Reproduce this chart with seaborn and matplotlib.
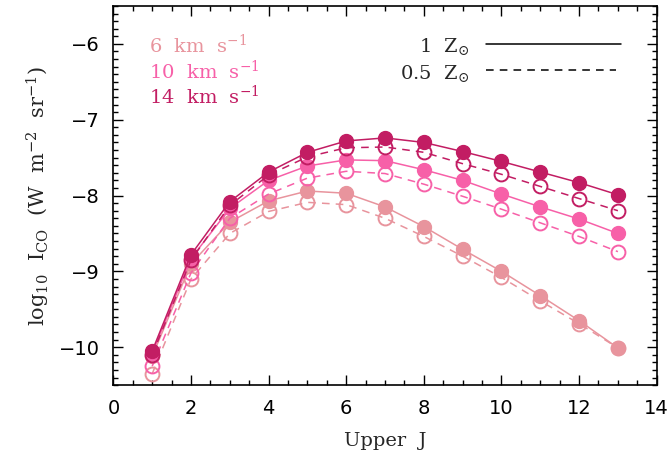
import numpy as np
import pandas as pd
import matplotlib
matplotlib.use("Agg")
import matplotlib.pyplot as plt
import seaborn as sns
from matplotlib.ticker import MultipleLocator

J = [1, 2, 3, 4, 5, 6, 7, 8, 9, 10, 11, 12, 13]

v6_solid = [-10.12, -8.90, -8.35, -8.07, -7.94, -7.97, -8.15, -8.41, -8.71, -9.00, -9.32, -9.65, -10.01]
v6_dash = [-10.35, -9.10, -8.50, -8.21, -8.09, -8.12, -8.30, -8.54, -8.80, -9.08, -9.39, -9.69, -10.01]
v10_solid = [-10.08, -8.83, -8.17, -7.80, -7.61, -7.53, -7.54, -7.66, -7.80, -7.98, -8.15, -8.31, -8.50]
v10_dash = [-10.25, -9.02, -8.30, -7.98, -7.77, -7.68, -7.71, -7.85, -8.01, -8.18, -8.36, -8.54, -8.74]
v14_solid = [-10.05, -8.78, -8.08, -7.69, -7.43, -7.28, -7.24, -7.30, -7.42, -7.55, -7.69, -7.83, -7.99]
v14_dash = [-10.10, -8.85, -8.13, -7.73, -7.49, -7.37, -7.36, -7.43, -7.58, -7.72, -7.88, -8.04, -8.20]

labels = ["6  km  s$^{-1}$", "10  km  s$^{-1}$", "14  km  s$^{-1}$"]
colors = ["#E8949D", "#F760A8", "#C21D63"]

sns.set_theme(style="ticks")
plt.rcParams['font.family'] = ['DejaVu Serif']
plt.rcParams['mathtext.fontset'] = 'dejavuserif'

fig = plt.figure(figsize=(6.71, 4.59), dpi=100)
ax = fig.add_axes([0.169, 0.161, 0.8097, 0.826])

series = [(v6_solid, v6_dash), (v10_solid, v10_dash), (v14_solid, v14_dash)]
for (s, d), c in zip(series, colors):
    sns.lineplot(x=J, y=d, ax=ax, color=c, linewidth=1.1, linestyle=(0, (5, 4)),
                 marker='o', markersize=10, markerfacecolor='none',
                 markeredgecolor=c, markeredgewidth=1.4)
    sns.lineplot(x=J, y=s, ax=ax, color=c, linewidth=1.1, linestyle='-',
                 marker='o', markersize=10, markerfacecolor=c,
                 markeredgecolor=c, markeredgewidth=1.0)

ax.set_xlim(0, 14)
ax.set_ylim(-10.5, -5.5)
ax.xaxis.set_major_locator(MultipleLocator(2))
ax.xaxis.set_minor_locator(MultipleLocator(0.5))
ax.yaxis.set_major_locator(MultipleLocator(1))
ax.yaxis.set_minor_locator(MultipleLocator(0.1))
ax.tick_params(which='both', direction='in', top=True, right=True, colors='black', width=1.0)
ax.tick_params(which='major', length=7, labelsize=14, pad=10)
ax.tick_params(which='minor', length=3.5)
for lab in ax.get_xticklabels() + ax.get_yticklabels():
    lab.set_family('DejaVu Sans')
for sp in ax.spines.values():
    sp.set_color('black')
    sp.set_linewidth(1.2)

ax.set_xlabel("Upper  J", fontsize=14, labelpad=10)
ax.set_ylabel("log$_{10}$  I$_{\\rm CO}$  (W  m$^{-2}$  sr$^{-1}$)", fontsize=15, labelpad=5)

# velocity legend
ys = [0.897, 0.828, 0.762]
for y, lab, c in zip(ys, labels, colors):
    ax.text(0.065, y, lab, color=c, fontsize=14,
            transform=ax.transAxes, ha='left', va='center')

# metallicity legend
ax.text(0.655, 0.892, "1  Z$_{\\odot}$", fontsize=14, transform=ax.transAxes, ha='right', va='center')
ax.text(0.655, 0.823, "0.5  Z$_{\\odot}$", fontsize=14, transform=ax.transAxes, ha='right', va='center')
ax.plot([0.685, 0.935], [0.899, 0.899], color='black', lw=1.1, transform=ax.transAxes)
ax.plot([0.685, 0.925], [0.830, 0.830], color='black', lw=1.1, linestyle=(0, (5, 4)), transform=ax.transAxes)

fig.savefig("out.png", dpi=100)
